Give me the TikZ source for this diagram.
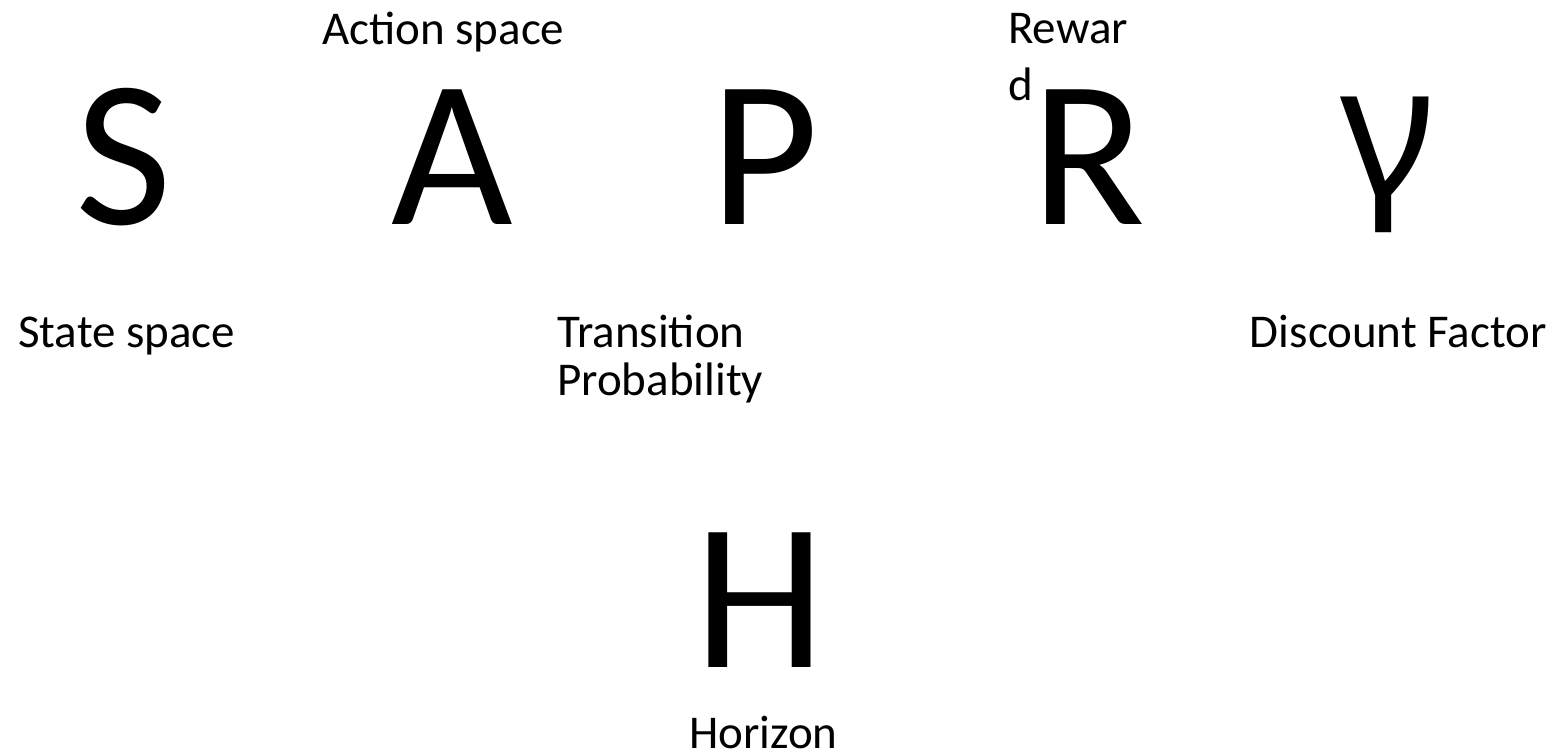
\documentclass[tikz,border=0pt]{standalone}
\usepackage{fontspec}
\setmainfont{Carlito}
\newfontfamily\gammafont{Noto Sans}
\begin{document}
\begin{tikzpicture}[x=1pt,y=-1pt,
  big/.style={anchor=base,inner sep=0pt,font=\fontsize{210}{210}\selectfont},
  lbl/.style={anchor=base west,inner sep=0pt,font=\fontsize{47}{56}\selectfont}]
\useasboundingbox (0,0) rectangle (1557,755);
\node[big] (S) at (124,224) {S};
\node[big] (A) at (452,224) {A};
\node[big] (P) at (765,224) {P};
\node[big] (R) at (1088,224) {R};
\node[big,font=\fontsize{182}{182}\gammafont] (g) at (1387,194) {γ};
\node[big] (H) at (760,667) {H};
\node[lbl] (la) at (322,44) {Action space};
\node[lbl] (lr1) at (1008,43) {Rewar};
\node[lbl] (lr2) at (1008,100) {d};
\node[lbl] (ls) at (18,347) {State space};
\node[lbl] (lt1) at (557,347) {Transition};
\node[lbl] (lt2) at (557,395) {Probability};
\node[lbl,anchor=base east] (ld) at (1547,347) {Discount Factor};
\node[lbl] (lh) at (689,748) {Horizon};
\end{tikzpicture}
\end{document}
